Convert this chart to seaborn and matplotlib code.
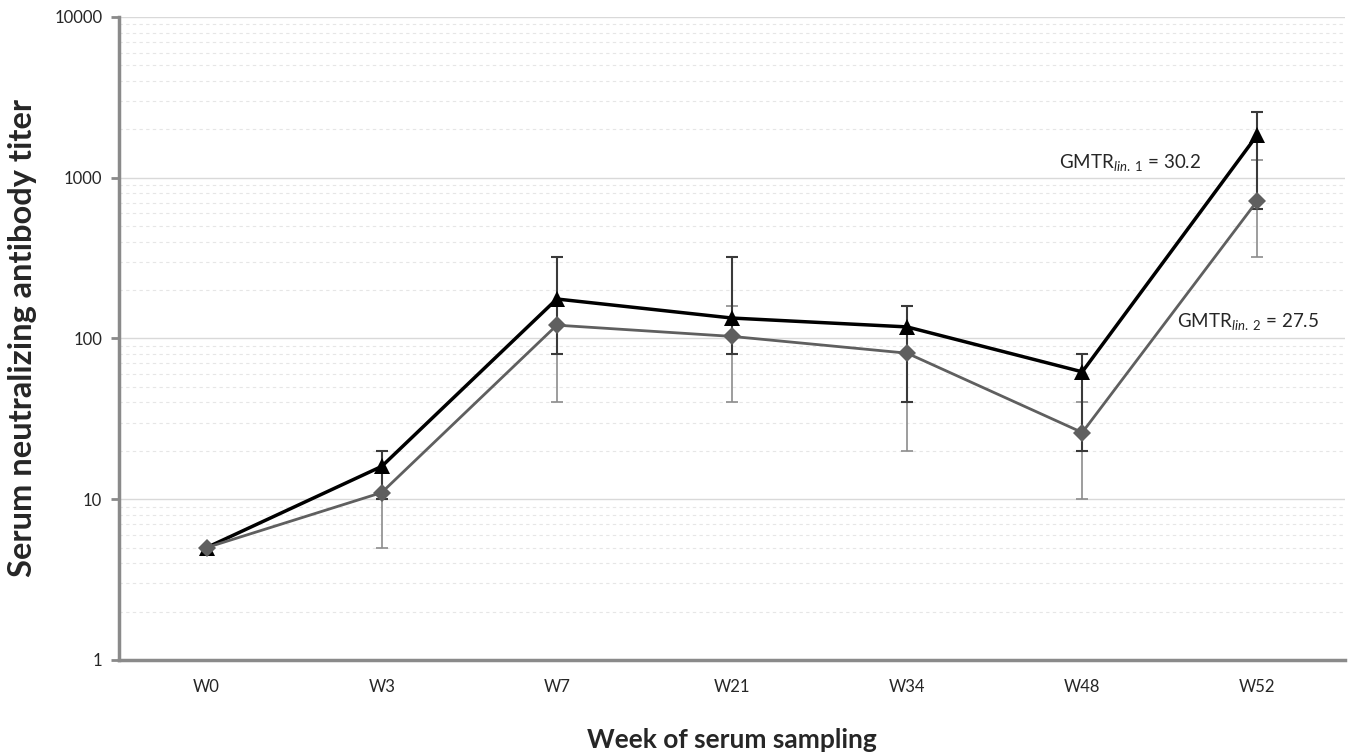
import matplotlib
matplotlib.use("Agg")
import matplotlib.pyplot as plt
import numpy as np
import pandas as pd
import seaborn as sns
from matplotlib.ticker import FixedLocator, LogLocator, NullFormatter

weeks = ["W0", "W3", "W7", "W21", "W34", "W48", "W52"]

# lineage 1 (black triangles)
lin1_titer = [5, 16, 176, 134, 118, 62, 1850]
lin1_low = [5, 10, 80, 80, 40, 20, 640]
lin1_high = [5, 20, 320, 320, 160, 80, 2560]

# lineage 2 (grey diamonds)
lin2_titer = [5, 11, 121, 103, 81, 26, 720]
lin2_low = [5, 5, 40, 40, 20, 10, 320]
lin2_high = [5, 20, 160, 160, 160, 40, 1280]

gmtr_labels = [r"GMTR$_{lin.\ 1}$ = 30.2", r"GMTR$_{lin.\ 2}$ = 27.5"]

sns.set_theme(style="white")
plt.rcParams["font.family"] = ["Lato", "DejaVu Sans"]
plt.rcParams["mathtext.fontset"] = "custom"
plt.rcParams["mathtext.rm"] = "Lato"
plt.rcParams["mathtext.it"] = "Lato:italic"

df = pd.DataFrame({
    "week": weeks * 2,
    "titer": lin1_titer + lin2_titer,
    "lineage": ["lin1"] * len(weeks) + ["lin2"] * len(weeks),
})

fig = plt.figure(figsize=(13.55, 7.54), dpi=100)
ax = fig.add_axes([0.0878, 0.1247, 0.9048, 0.8528])

ax.set_yscale("log")
ax.set_ylim(1, 10000)
ax.set_xlim(-0.5, len(weeks) - 0.5)

ax.yaxis.set_major_locator(FixedLocator([1, 10, 100, 1000, 10000]))
ax.yaxis.set_minor_locator(LogLocator(base=10, subs=np.arange(2, 10)))
ax.yaxis.set_minor_formatter(NullFormatter())
ax.set_yticklabels(["1", "10", "100", "1000", "10000"])
ax.grid(axis="y", which="major", color="#d9d9d9", lw=1.0, ls="-")
ax.grid(axis="y", which="minor", color="#e6e6e6", lw=0.8, ls=(0, (3, 3)))
ax.set_axisbelow(True)

x = np.arange(len(weeks))
t1, t2 = np.array(lin1_titer), np.array(lin2_titer)
ax.errorbar(x, t2, yerr=[t2 - np.array(lin2_low), np.array(lin2_high) - t2],
            fmt="none", ecolor="#8c8c8c", elinewidth=1.2, capsize=4, capthick=1.2, zorder=2)
ax.errorbar(x, t1, yerr=[t1 - np.array(lin1_low), np.array(lin1_high) - t1],
            fmt="none", ecolor="#3a3a3a", elinewidth=1.5, capsize=4, capthick=1.5, zorder=3)

sns.lineplot(data=df[df["lineage"] == "lin1"], x="week", y="titer", color="black",
             lw=2.5, marker="^", markersize=12, markeredgewidth=0, ax=ax, zorder=4)
sns.lineplot(data=df[df["lineage"] == "lin2"], x="week", y="titer", color="#5f5f5f",
             lw=2.0, marker="D", markersize=9, markeredgewidth=0, ax=ax, zorder=5)

ax.text(4.87, 1240, gmtr_labels[0], fontsize=13.5, va="center", ha="left")
ax.text(5.54, 127, gmtr_labels[1], fontsize=13.5, va="center", ha="left")

for side in ["top", "right"]:
    ax.spines[side].set_visible(False)
for side in ["left", "bottom"]:
    ax.spines[side].set_color("#8a8a8a")
    ax.spines[side].set_linewidth(2.5)

ax.set_xticks(x)
ax.set_xticklabels(weeks)
ax.set_xticks(np.arange(-0.5, len(weeks)), minor=True)
ax.tick_params(axis="x", which="major", length=0, pad=14, labelsize=12)
ax.tick_params(axis="x", which="minor", length=6, width=2, color="#8a8a8a", direction="out")
ax.tick_params(axis="y", which="major", length=6, width=2, color="#8a8a8a",
               direction="out", labelsize=12, left=True, pad=6)
ax.tick_params(axis="y", which="minor", length=0)

ax.set_xlabel("Week of serum sampling", fontsize=19, fontweight="bold")
ax.set_ylabel("Serum neutralizing antibody titer", fontsize=23.5, fontweight="bold")
ax.xaxis.set_label_coords(0.5, -0.124)
ax.yaxis.set_label_coords(-0.079, 0.5)
ax.xaxis.label.set_va("center")
ax.yaxis.label.set_va("center")

fig.savefig("out.png", dpi=100)
